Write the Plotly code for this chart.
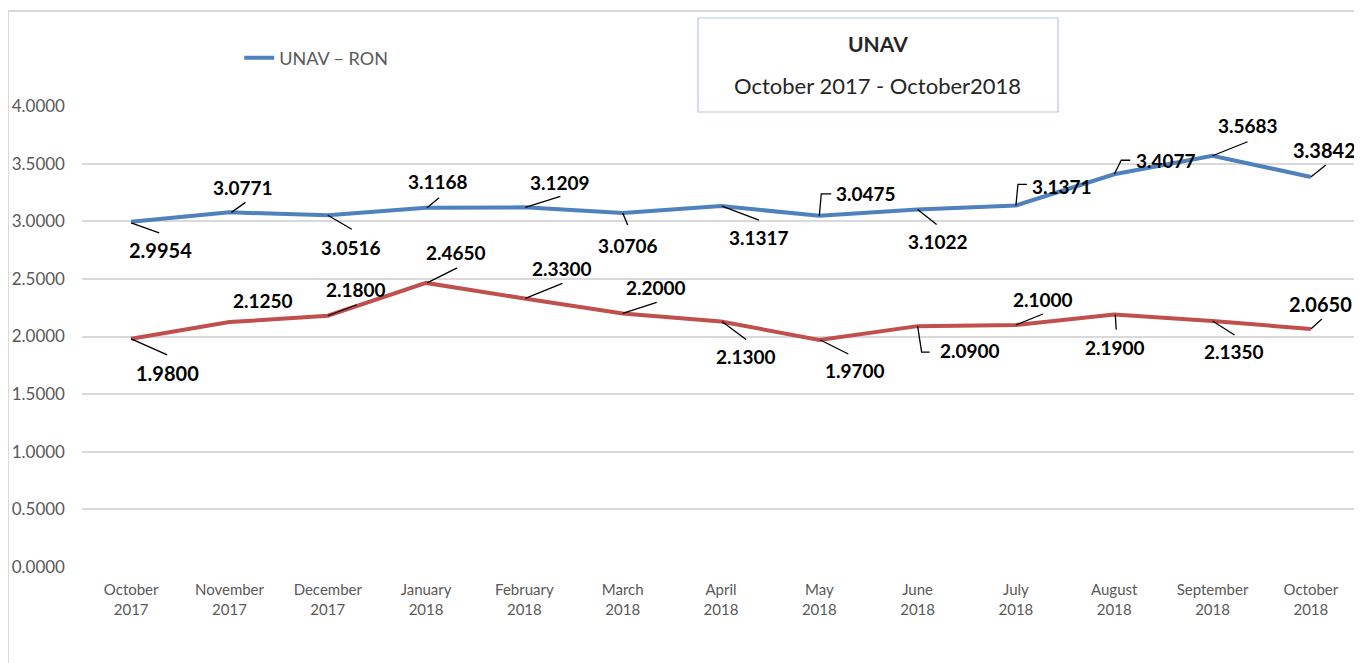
import plotly.graph_objects as go

# ---- data ----
months = ["October", "November", "December", "January", "February", "March", "April",
          "May", "June", "July", "August", "September", "October"]
years = ["2017", "2017", "2017", "2018", "2018", "2018", "2018",
         "2018", "2018", "2018", "2018", "2018", "2018"]
unav_ron = [2.9954, 3.0771, 3.0516, 3.1168, 3.1209, 3.0706, 3.1317,
            3.0475, 3.1022, 3.1371, 3.4077, 3.5683, 3.3842]
second_series = [1.9800, 2.1250, 2.1800, 2.4650, 2.3300, 2.2000, 2.1300,
                 1.9700, 2.0900, 2.1000, 2.1900, 2.1350, 2.0650]
y_ticks = [0.0, 0.5, 1.0, 1.5, 2.0, 2.5, 3.0, 3.5, 4.0]

# ---- label placement (screen pixel offsets from each point) ----
blue_label_off = [(29, 28), (14, -25), (23, 32), (12, -26), (36, -25), (5, 32), (38, 31),
                  (47, -22), (20, 32), (46, -19), (52, -14), (35, -30), (14, -27)]
blue_leader = [[(0, 1), (28, 11)], [(2, 0), (16, -10)], [(0, 0), (24, 14)], [(1, 0), (13, -10)],
               [(1, 0), (36, -11)], [(0, 0), (5, 12)], [(1, 0), (38, 14)],
               [(0, 0), (2, -22), (12, -22)], [(0, 0), (19, 15)], [(0, 0), (2, -21), (11, -21)],
               [(0, 0), (7, -14), (16, -14)], [(0, 0), (35, -14)], [(0, 0), (15, -12)]]
red_label_off = [(36, 34), (34, -22), (28, -26), (30, -30), (38, -30), (33, -26), (25, 35),
                 (36, 31), (52, 24), (27, -25), (1, 33), (21, 31), (10, -25)]
red_leader = [[(0, 0), (36, 16)], None, [(0, 0), (29, -11)], [(1, 0), (31, -15)],
              [(1, 0), (38, -15)], [(0, 0), (34, -11)], [(1, 0), (25, 18)],
              [(1, 0), (29, 14)], [(0, 0), (4, 26), (12, 26)], [(0, 0), (27, -11)],
              [(1, 0), (2, 15)], [(0, 0), (22, 14)], [(0, 0), (11, -10)]]
big_labels = {0, 12}

BLUE = "#4f81bd"
RED = "#c0504d"
GRID = "#d9d9d9"
TICK = "#595959"

xs = list(range(len(months)))
ticktext = [f"{m}<br>{y}" for m, y in zip(months, years)]

fig = go.Figure()
fig.add_trace(go.Scatter(x=xs, y=unav_ron, mode="lines", name="UNAV – RON",
                         line=dict(color=BLUE, width=4), showlegend=True))
fig.add_trace(go.Scatter(x=xs, y=second_series, mode="lines", name="",
                         line=dict(color=RED, width=4), showlegend=False))

annotations = []
shapes = []


def add_labels(values, offs, leaders):
    for i, v in enumerate(values):
        dx, dy = offs[i]
        annotations.append(dict(
            x=xs[i], y=v, xref="x", yref="y", text=f"<b>{v:.4f}</b>", showarrow=False,
            xshift=dx, yshift=-dy, xanchor="center", yanchor="middle",
            font=dict(family="Lato", size=20 if i in big_labels else 19, color="#000000")))
        pts = leaders[i]
        if pts:
            path = "M " + " L ".join(f"{px} {-py}" for px, py in pts)
            shapes.append(dict(type="path", xref="x", yref="y", xsizemode="pixel",
                               ysizemode="pixel", xanchor=xs[i], yanchor=v, path=path,
                               line=dict(color="#000000", width=1.3)))


add_labels(unav_ron, blue_label_off, blue_leader)
add_labels(second_series, red_label_off, red_leader)

# frame lines
shapes.append(dict(type="line", xref="paper", yref="paper", x0=-0.0579, x1=1.01,
                   y0=1.206, y1=1.206, line=dict(color=GRID, width=2), layer="below"))
shapes.append(dict(type="line", xref="paper", yref="paper", x0=-0.0579, x1=-0.0579,
                   y0=1.206, y1=-0.25, line=dict(color=GRID, width=2), layer="below"))
# title box
shapes.append(dict(type="rect", xref="paper", yref="paper", x0=0.482, x1=0.7637,
                   y0=0.987, y1=1.1909, line=dict(color="#b4c7e7", width=1.2),
                   fillcolor="white", layer="above"))
annotations.append(dict(x=0.6228, y=1.1345, xref="paper", yref="paper", showarrow=False,
                        text="<b>UNAV</b>", xanchor="center", yanchor="middle",
                        font=dict(family="Lato", size=21, color="#262626")))
annotations.append(dict(x=0.6228, y=1.0434, xref="paper", yref="paper", showarrow=False,
                        text="October 2017 - October2018", xanchor="center", yanchor="middle",
                        font=dict(family="Lato", size=22, color="#262626")))

fig.update_layout(
    width=1354, height=655,
    margin=dict(l=74, r=2, t=98, b=96),
    paper_bgcolor="white", plot_bgcolor="white",
    font=dict(family="Lato", color=TICK),
    showlegend=True,
    legend=dict(x=0.123, y=1.104, xanchor="left", yanchor="middle",
                font=dict(family="Lato", size=18, color=TICK), bgcolor="rgba(0,0,0,0)"),
    annotations=annotations, shapes=shapes,
    xaxis=dict(range=[-0.5, 12.5], tickvals=xs, ticktext=ticktext, showgrid=False,
               zeroline=False, showline=False, ticks="", tickfont=dict(size=15, color=TICK),
               ticklabelstandoff=12),
    yaxis=dict(range=[0, 4.0], tickvals=y_ticks, ticktext=[f"{t:.4f}" for t in y_ticks],
               showgrid=True, gridcolor=GRID, gridwidth=1.5, zeroline=False, showline=False,
               ticks="", tickfont=dict(size=17, color=TICK), ticklabelstandoff=16),
)

fig.write_html("out.html")
